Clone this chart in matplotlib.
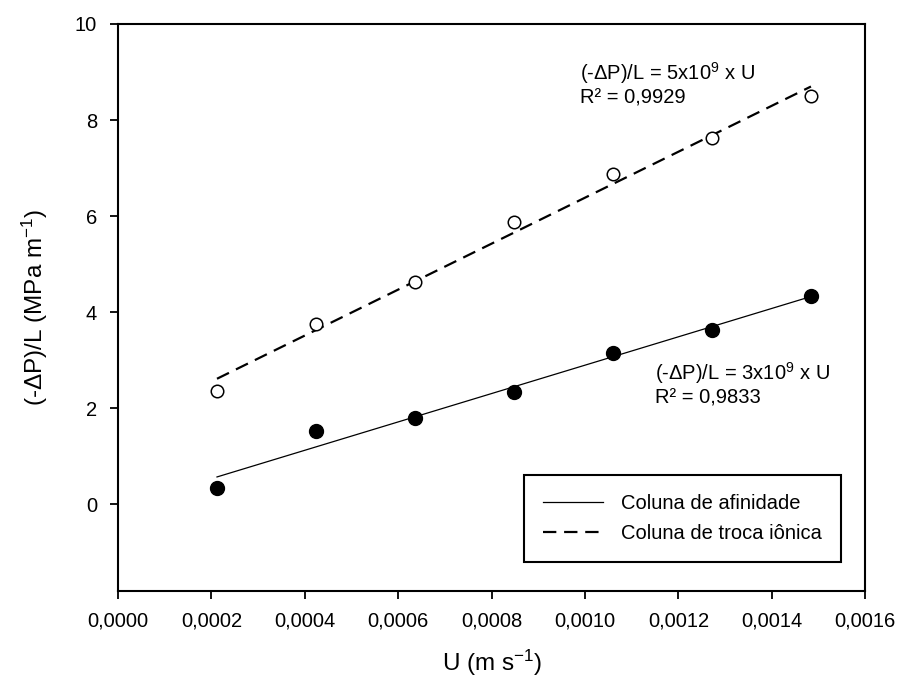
import numpy as np
import matplotlib
matplotlib.use("Agg")
import matplotlib.pyplot as plt
from matplotlib.ticker import FuncFormatter

plt.rcParams["font.family"] = ["Liberation Sans", "DejaVu Sans"]
plt.rcParams["mathtext.fontset"] = "custom"
plt.rcParams["mathtext.rm"] = "Liberation Sans"
plt.rcParams["mathtext.it"] = "Liberation Sans:italic"
plt.rcParams["mathtext.bf"] = "Liberation Sans:bold"

# superficial velocity U (m/s)
velocity = [0.000212, 0.000424, 0.000636, 0.000848, 0.00106, 0.001272, 0.001484]
# pressure drop per length (MPa/m)
affinity = [0.35, 1.53, 1.80, 2.35, 3.15, 3.63, 4.34]
ion_exchange = [2.37, 3.75, 4.62, 5.87, 6.87, 7.62, 8.50]

labels = ["Coluna de afinidade", "Coluna de troca iônica"]
eq_ion = ["(-ΔP)/L = 5x10$^9$ x U", "R² = 0,9929"]
eq_aff = ["(-ΔP)/L = 3x10$^9$ x U", "R² = 0,9833"]

FS = 14.5


def main():
    x = np.array(velocity)
    fig = plt.figure(figsize=(8.98, 6.84), dpi=100)
    ax = fig.add_axes([0.1314, 0.136, 0.832, 0.829])

    fit_a = np.polyfit(x, affinity, 1)
    fit_i = np.polyfit(x, ion_exchange, 1)

    ax.plot(x, np.polyval(fit_a, x), color="black", lw=0.9, label=labels[0])
    ax.plot(x, np.polyval(fit_i, x), color="black", lw=1.6,
            dashes=(6, 3.5), label=labels[1])

    ax.plot(x, affinity, "o", ms=10, mfc="black", mec="black", zorder=3)
    ax.plot(x, ion_exchange, "o", ms=9, mfc="white", mec="black",
            mew=1.1, zorder=3)

    ax.set_xlim(0, 0.0016)
    ax.set_ylim(-1.8, 10)
    ax.set_xticks(np.arange(0, 0.00161, 0.0002))
    ax.set_yticks([0, 2, 4, 6, 8, 10])
    ax.xaxis.set_major_formatter(
        FuncFormatter(lambda v, p: f"{v:.4f}".replace(".", ",")))
    ax.tick_params(direction="out", length=6, width=1.3, pad=9,
                   labelsize=FS, top=False, right=False)
    for s in ax.spines.values():
        s.set_linewidth(1.5)

    ax.set_xlabel("U (m s$^{-1}$)", fontsize=17.5, labelpad=12)
    ax.set_ylabel("(-ΔP)/L (MPa m$^{-1}$)", fontsize=17.5, labelpad=18)

    ax.text(0.618, 0.9136, eq_ion[0], transform=ax.transAxes,
            fontsize=FS, va="center", ha="left")
    ax.text(0.618, 0.8695, eq_ion[1], transform=ax.transAxes,
            fontsize=FS, va="center", ha="left")
    ax.text(0.719, 0.3845, eq_aff[0], transform=ax.transAxes,
            fontsize=FS, va="center", ha="left")
    ax.text(0.719, 0.340, eq_aff[1], transform=ax.transAxes,
            fontsize=FS, va="center", ha="left")

    leg = ax.legend(loc="lower right", bbox_to_anchor=(0.968, 0.051),
                    borderaxespad=0, fancybox=False, framealpha=1,
                    edgecolor="black", fontsize=FS, handlelength=3.0,
                    handletextpad=0.9, labelspacing=0.55, borderpad=0.95)
    leg.get_frame().set_linewidth(1.5)

    fig.savefig("out.png", dpi=100)


if __name__ == "__main__":
    main()
